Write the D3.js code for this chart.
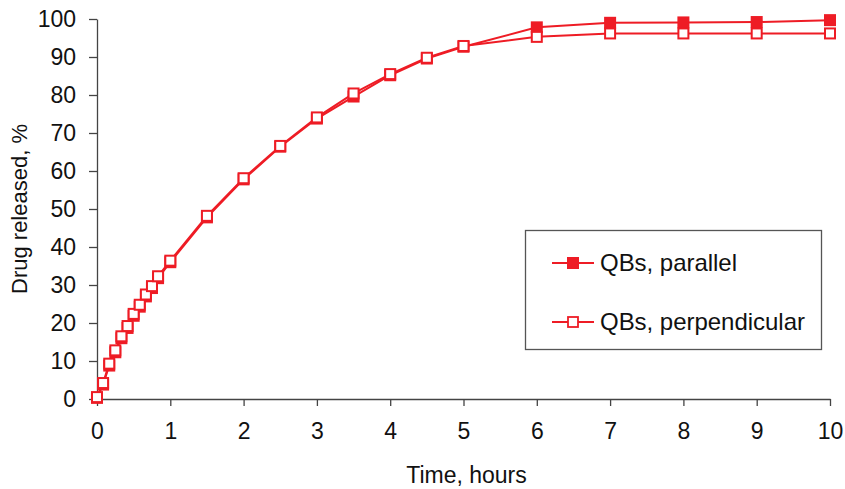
<!DOCTYPE html>
<html>
<head>
<meta charset="utf-8">
<script src="https://cdn.jsdelivr.net/npm/d3@7"></script>
<style>
  html, body { margin: 0; padding: 0; background: #fff; }
  svg { display: block; font-family: "Liberation Sans", Arial, sans-serif; }
</style>
</head>
<body>
<svg id="chart" width="845" height="489"></svg>
<script>
// ---- data ----
const times = [0, 0.083, 0.167, 0.25, 0.333, 0.417, 0.5, 0.583, 0.667, 0.75, 0.833, 1, 1.5, 2, 2.5, 3, 3.5, 4, 4.5, 5, 6, 7, 8, 9, 10];
const parallel = [0.3, 3.8, 8.8, 12.3, 16.0, 18.7, 21.9, 24.3, 27.0, 29.2, 31.8, 36.0, 47.8, 57.8, 66.4, 73.8, 79.6, 85.2, 89.6, 92.7, 97.8, 99.0, 99.1, 99.2, 99.7];
const perpendicular = [0.5, 4.2, 9.3, 12.8, 16.5, 19.2, 22.4, 24.8, 27.5, 29.7, 32.3, 36.4, 48.2, 58.1, 66.6, 74.1, 80.4, 85.5, 89.8, 92.9, 95.3, 96.2, 96.2, 96.2, 96.2];
const xTicks = [0, 1, 2, 3, 4, 5, 6, 7, 8, 9, 10];
const yTicks = [0, 10, 20, 30, 40, 50, 60, 70, 80, 90, 100];
const seriesNames = ["QBs, parallel", "QBs, perpendicular"];
const xTitle = "Time, hours";
const yTitle = "Drug released, %";

// ---- drawing ----
const red = "#ee1c25";
const axisColor = "#444";
const svg = d3.select("#chart");
const x = d3.scaleLinear().domain([0, 10]).range([97, 830]);
const y = d3.scaleLinear().domain([0, 100]).range([399, 19]);

// axes
const xAxis = svg.append("g").attr("transform", `translate(0,${y(0)})`)
  .call(d3.axisBottom(x).tickValues(xTicks).tickSize(7).tickPadding(17).tickSizeOuter(0));
const yAxis = svg.append("g").attr("transform", `translate(${x(0)},0)`)
  .call(d3.axisLeft(y).tickValues(yTicks).tickSize(8).tickPadding(13).tickSizeOuter(0));
[xAxis, yAxis].forEach(g => {
  g.select(".domain").attr("stroke", axisColor).attr("stroke-width", 1.3);
  g.selectAll(".tick line").attr("stroke", axisColor).attr("stroke-width", 1.3);
  g.selectAll(".tick text").attr("fill", "#111").style("font-size", "23px")
    .style("font-family", '"Liberation Sans", Arial, sans-serif');
});

// titles
svg.append("text").attr("x", (x(0) + x(10)) / 2 + 3).attr("y", 483)
  .attr("text-anchor", "middle").attr("fill", "#111").style("font-size", "23px").text(xTitle);
svg.append("text").attr("transform", `translate(27,${(y(0) + y(100)) / 2}) rotate(-90)`)
  .attr("text-anchor", "middle").attr("fill", "#111").style("font-size", "22px").text(yTitle);

const line = d3.line().x(d => x(d[0])).y(d => y(d[1]));
const parData = times.map((t, i) => [t, parallel[i]]);
const perData = times.map((t, i) => [t, perpendicular[i]]);

// parallel series (filled squares)
svg.append("path").datum(parData).attr("d", line)
  .attr("fill", "none").attr("stroke", red).attr("stroke-width", 2);
svg.append("g").selectAll("rect").data(parData).join("rect")
  .attr("x", d => x(d[0]) - 6).attr("y", d => y(d[1]) - 6)
  .attr("width", 12).attr("height", 12).attr("fill", red);

// perpendicular series (open squares)
svg.append("path").datum(perData).attr("d", line)
  .attr("fill", "none").attr("stroke", red).attr("stroke-width", 2);
svg.append("g").selectAll("rect").data(perData).join("rect")
  .attr("x", d => x(d[0]) - 5).attr("y", d => y(d[1]) - 5)
  .attr("width", 10).attr("height", 10).attr("fill", "#fff")
  .attr("stroke", red).attr("stroke-width", 2);

// legend
const lg = svg.append("g");
lg.append("rect").attr("x", 525.5).attr("y", 230.5).attr("width", 296).attr("height", 119)
  .attr("fill", "#fff").attr("stroke", "#555").attr("stroke-width", 1.3);
const rows = [263, 322];
rows.forEach((ry, i) => {
  lg.append("line").attr("x1", 552).attr("x2", 594).attr("y1", ry).attr("y2", ry)
    .attr("stroke", red).attr("stroke-width", 2);
  if (i === 0) {
    lg.append("rect").attr("x", 567).attr("y", ry - 6).attr("width", 12).attr("height", 12).attr("fill", red);
  } else {
    lg.append("rect").attr("x", 568).attr("y", ry - 5).attr("width", 10).attr("height", 10)
      .attr("fill", "#fff").attr("stroke", red).attr("stroke-width", 1.8);
  }
  lg.append("text").attr("x", 600).attr("y", ry + 8).attr("fill", "#111")
    .style("font-size", "24px").attr("textLength", i === 0 ? 137 : 205).text(seriesNames[i]);
});
</script>
</body>
</html>
